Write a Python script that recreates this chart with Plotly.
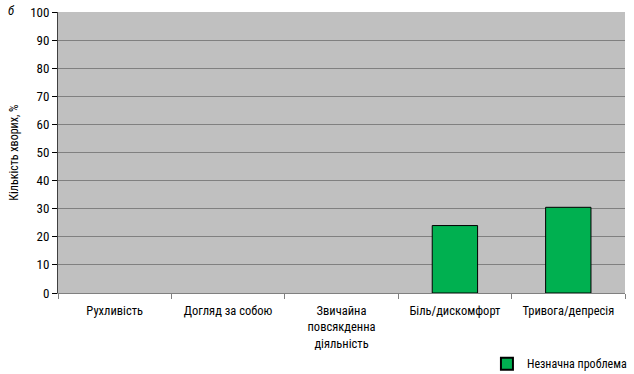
import plotly.graph_objects as go

categories = ["Рухливість", "Догляд за собою", "Звичайна<br>повсякденна<br>діяльність",
              "Біль/дискомфорт", "Тривога/депресія"]
values = [0, 0, 0, 24, 30.5]
series_name = "Незначна проблема"
y_ticks = [0, 10, 20, 30, 40, 50, 60, 70, 80, 90, 100]

FONT = "Liberation Sans Narrow, Arial Narrow, Roboto Condensed, sans-serif"

fig = go.Figure()
fig.add_trace(go.Bar(
    x=categories, y=values, name=series_name,
    marker=dict(color="#00b050",
                line=dict(color="#000000", width=[1 if v > 0 else 0 for v in values])),
    width=0.4,
))

fig.update_layout(
    width=634, height=374,
    margin=dict(l=58, r=9, t=12, b=81, autoexpand=False),
    paper_bgcolor="white", plot_bgcolor="#c0c0c0",
    font=dict(family=FONT, size=12, color="#000000"),
    showlegend=True,
    legend=dict(orientation="h", x=1.014, xanchor="right", y=-0.2, yanchor="top",
                font=dict(size=12), itemsizing="constant", itemwidth=30,
                bgcolor="rgba(0,0,0,0)"),
    bargap=0.6,
)
fig.update_xaxes(
    type="category", tickson="boundaries", ticks="outside", ticklen=5,
    tickcolor="#808080", showline=True, linecolor="#808080", linewidth=1,
    showgrid=False, tickfont=dict(size=12.5), mirror=False, automargin=False,
    ticklabelstandoff=6,
)
fig.update_yaxes(
    range=[0, 100], tickvals=y_ticks, ticks="outside", ticklen=5, tickcolor="#000000",
    showline=True, linecolor="#404040", linewidth=1,
    showgrid=True, gridcolor="#808080", gridwidth=1, zeroline=False,
    tickfont=dict(size=13), automargin=False,
    title=dict(text="Кількість хворих, %", font=dict(size=12), standoff=8),
)
fig.add_annotation(text="<i>б</i>", xref="paper", yref="paper", x=-0.092, y=1.038,
                   xanchor="left", yanchor="top", showarrow=False, font=dict(size=13))

fig.write_html("out.html", config={"displayModeBar": False},
               post_script="document.body.style.margin='0';document.body.style.overflow='hidden';")
